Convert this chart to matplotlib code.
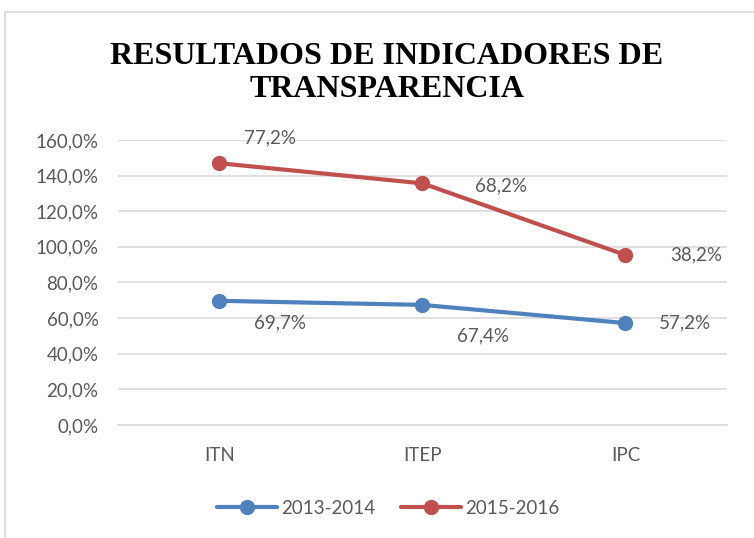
import numpy as np
import matplotlib.pyplot as plt
from matplotlib.patches import Rectangle
from matplotlib.ticker import FuncFormatter

categories = ["ITN", "ITEP", "IPC"]
series_names = ["2013-2014", "2015-2016"]
values_1314 = [69.7, 67.4, 57.2]
values_1516 = [77.2, 68.2, 38.2]
colors = ["#4F81BD", "#C0504D"]

plt.rcParams['font.family'] = ['Lato', 'DejaVu Sans']
text_gray = "#595959"

fig = plt.figure(figsize=(7.54, 5.38), dpi=100)
ax = fig.add_axes([0.1565, 0.21, 0.8075, 0.53])

# stacked line chart, like the Excel original
stacked = np.cumsum([values_1314, values_1516], axis=0) / 100.0
x = np.arange(len(categories))

for i, name in enumerate(series_names):
    ax.plot(x, stacked[i], color=colors[i], lw=3, marker='o', markersize=10,
            solid_capstyle='round', label=name, zorder=3)

# data labels show the raw values
blue_offsets = [(25, -16), (25, -22), (24, 0)]
red_offsets = [(18, 18), (38, -2), (32, 0)]
for vals, row, offs in [(values_1314, stacked[0], blue_offsets),
                        (values_1516, stacked[1], red_offsets)]:
    for j, v in enumerate(vals):
        ax.annotate(f"{v:.1f}%".replace('.', ','), (x[j], row[j]),
                    xytext=offs[j], textcoords='offset points',
                    ha='left', va='center', fontsize=13.5, color=text_gray)

ax.set_xlim(-0.5, len(categories) - 0.5)
ax.set_ylim(0, 1.6)
ax.set_yticks(np.arange(0, 1.61, 0.2))
ax.yaxis.set_major_formatter(FuncFormatter(lambda v, p: f"{v*100:.1f}%".replace('.', ',')))
ax.set_xticks(x)
ax.set_xticklabels(categories)
ax.tick_params(axis='both', length=0, labelsize=13.5, labelcolor=text_gray)
ax.tick_params(axis='x', pad=16)
ax.tick_params(axis='y', pad=14)
ax.grid(axis='y', color='#D9D9D9', lw=1.2)
ax.set_axisbelow(True)
for s in ['top', 'right', 'left']:
    ax.spines[s].set_visible(False)
ax.spines['bottom'].set_color('#D9D9D9')
ax.spines['bottom'].set_linewidth(1.2)

fig.text(0.513, 0.864, "RESULTADOS DE INDICADORES DE\nTRANSPARENCIA", ha='center', va='center',
         fontsize=23, fontweight='bold', family='Liberation Serif', linespacing=1.18)

fig.legend(loc='center', bbox_to_anchor=(0.515, 0.055), ncol=2, frameon=False,
           fontsize=13.5, labelcolor=text_gray, handlelength=3.2, columnspacing=1.4,
           handletextpad=0.2)

# chart border
fig.patches.append(Rectangle((5 / 754, -0.1), 2, 1 - 12 / 538 + 0.1, transform=fig.transFigure,
                             fill=False, edgecolor='#D9D9D9', lw=1.2))

fig.savefig("out.png", dpi=100)
